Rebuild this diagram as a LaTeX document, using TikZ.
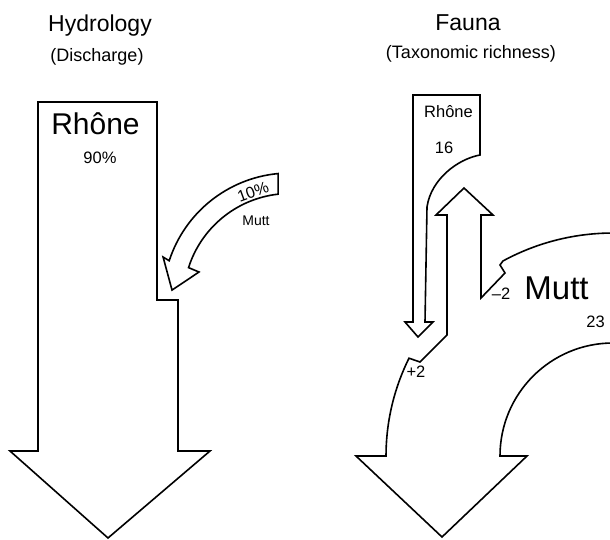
\documentclass[tikz,border=0pt]{standalone}
\usepackage{fontspec}
\setmainfont{Liberation Sans}
\usetikzlibrary{calc}

\begin{document}
\begin{tikzpicture}[x=1pt, y=1pt,
    flow/.style={draw=black, fill=white, line width=1.6pt, line join=miter},
    heading/.style={anchor=base, font=\fontsize{23}{27}\selectfont},
    subhead/.style={anchor=base, font=\fontsize{18}{22}\selectfont},
    lab/.style={anchor=base, font=\fontsize{16.5}{20}\selectfont},
    tinylab/.style={anchor=base, font=\fontsize{14}{17}\selectfont}]
    \useasboundingbox (0,0) rectangle (610,539);
    \clip (0,0) rectangle (610,539);
    \coordinate (hc) at (290,239);
    \coordinate (fc) at (613,83);

    % Hydrology
    \node[heading] (hyd) at (100,507) {Hydrology};
    \node[subhead] (dis) at (97,477) {(Discharge)};

    % Rhone discharge
    \draw[flow] (38,437) -- (157,437) -- (157,239) -- (178,239) -- (178,88)
          -- (210,88) -- (108,1) -- (10,88) -- (38,88) -- cycle;
    \node[anchor=base, font=\fontsize{30}{36}\selectfont] (rhoneL) at (95.5,404) {Rhône};
    \node[lab] (q90) at (100,375) {90\%};

    % Mutt discharge
    \draw[flow] ($(hc)+(95.4:127)$) arc[start angle=95.4, end angle=162, radius=127]
          -- ($(hc)+(161.3:134)$) -- ($(hc)+(175.2:118.4)$) -- ($(hc)+(162.9:95.2)$)
          -- ($(hc)+(162.3:106.5)$) arc[start angle=162.3, end angle=96.4, radius=106.5] -- cycle;
    \node[anchor=center, rotate=20, inner sep=0pt, font=\fontsize{16}{19}\selectfont] (q10) at (253,347) {10\%};
    \node[tinylab, inner sep=0pt] (muttS) at (256,313) {Mutt};

    % Fauna
    \node[heading] (fau) at (468,508) {Fauna};
    \node[subhead] (tax) at (471,480) {(Taxonomic richness)};

    % Mutt taxa, with the exchange arrow
    \draw[flow] (726.5,276.1) arc[start angle=60, end angle=119, x radius=227, y radius=223]
          -- (500,274) -- (505,266) -- (481,241) -- (481,324) -- (493,324) -- (464,351)
          -- (436,324) -- (447,324) -- (447,204) -- (420,177)
          -- (409,180.8) arc[start angle=154, end angle=180, x radius=227, y radius=223]
          -- (356,83) -- (442,2) -- (527,83) -- (500,83)
          arc[start angle=180, end angle=60, radius=113];

    % Rhone taxa
    \draw[flow] (413,444) -- (480,444) -- (480,384) .. controls (458,380) and (431,360) .. (427,332)
          -- (425,217) -- (433,217) -- (418,202) -- (405,217) -- (413,217) -- cycle;

    \node[lab] (rhoneR) at (448.5,421) {Rhône};
    \node[lab] (n16) at (444,385) {16};
    \node[lab] (m2) at (501,240) {–2};
    \node[anchor=base, font=\fontsize{33}{40}\selectfont] (muttL) at (556.5,240) {Mutt};
    \node[lab] (n23) at (595.5,212) {23};
    \node[lab] (p2) at (416,162) {+2};
\end{tikzpicture}
\end{document}
